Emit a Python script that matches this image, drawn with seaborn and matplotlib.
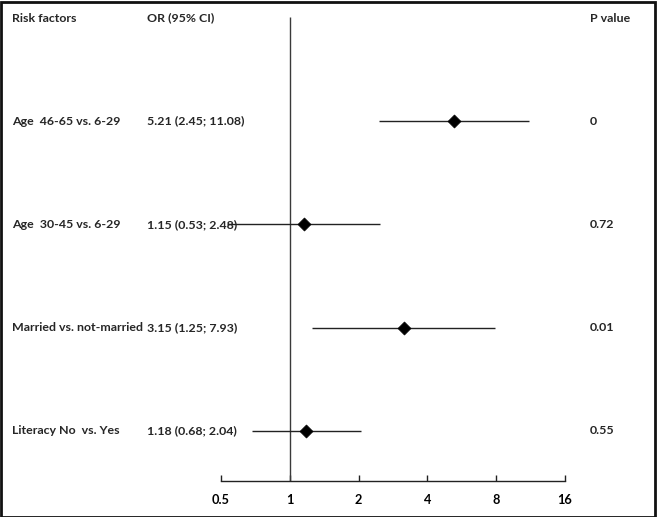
import matplotlib
matplotlib.use("Agg")
import matplotlib.pyplot as plt
import matplotlib.patches as mpatches
import numpy as np
import pandas as pd
import seaborn as sns

# Forest plot: odds ratios with 95% CI
factors = [
    "Age  46-65 vs. 6-29",
    "Age  30-45 vs. 6-29",
    "Married vs. not-married",
    "Literacy No  vs. Yes",
]
odds_ratio = [5.21, 1.15, 3.15, 1.18]
ci_low = [2.45, 0.53, 1.25, 0.68]
ci_high = [11.08, 2.48, 7.93, 2.04]
p_values = ["0", "0.72", "0.01", "0.55"]
x_ticks = [0.5, 1, 2, 4, 8, 16]
x_tick_labels = ["0.5", "1", "2", "4", "8", "16"]

sns.set_theme(style="white")
plt.rcParams["font.family"] = ["Lato", "DejaVu Sans"]

df = pd.DataFrame(
    {
        "factor": factors,
        "row": np.arange(len(factors)),
        "OR": odds_ratio,
        "lo": ci_low,
        "hi": ci_high,
        "p": p_values,
    }
)

W, H = 657, 517
fig = plt.figure(figsize=(W / 100, H / 100), dpi=100)
ax_bottom_px = 481
ax = fig.add_axes([0, (H - ax_bottom_px) / H, 1, ax_bottom_px / H])

# log2 scale, 0.5 at x=221 px, one doubling = 68.8 px
px_per_oct = 68.8
x_left = 2 ** (-1 - 221 / px_per_oct)
x_right = 2 ** (-1 + (W - 221) / px_per_oct)
ax.set_xscale("log", base=2)
ax.set_xlim(x_left, x_right)

row0_px, row_step = 121, 103.3
y_bottom = (ax_bottom_px - row0_px) / row_step
y_top = (0 - row0_px) / row_step
ax.set_ylim(y_bottom, y_top)

# reference line at OR = 1
ax.vlines(1, (17 - row0_px) / row_step, y_bottom, color="#3a3a3a", lw=1.0, zorder=1)

# CI lines and diamonds
ax.hlines(df["row"], df["lo"], df["hi"], color="#222222", lw=1.0, zorder=2)
sns.scatterplot(
    data=df, x="OR", y="row", marker="D", s=44, color="black",
    edgecolor="black", linewidth=0.5, ax=ax, zorder=3, legend=False,
)

# x axis
for side in ["top", "right", "left"]:
    ax.spines[side].set_visible(False)
ax.spines["bottom"].set_bounds(0.5, 16)
ax.spines["bottom"].set_color("#222222")
ax.spines["bottom"].set_linewidth(1.0)
ax.set_xticks(x_ticks)
ax.set_xticklabels(x_tick_labels, fontsize=9.2, fontweight="bold")
ax.tick_params(axis="x", direction="in", length=4, width=1, pad=9, colors="#222222",
               labelcolor="black", bottom=True)
ax.minorticks_off()
ax.set_yticks([])
ax.set_xlabel("")
ax.set_ylabel("")

# text columns
tr = ax.get_yaxis_transform()
col_label, col_or, col_p = 12 / W, 147 / W, 590 / W
fs = 8.9
header_y = (18 - row0_px) / row_step
ax.text(col_label, header_y, "Risk factors", transform=tr, ha="left", va="center",
        fontsize=fs, fontweight="bold")
ax.text(col_or, header_y, "OR (95% CI)", transform=tr, ha="left", va="center",
        fontsize=fs, fontweight="bold")
ax.text(col_p, header_y, "P value", transform=tr, ha="left", va="center",
        fontsize=fs, fontweight="bold")
for _, r in df.iterrows():
    ax.text(col_label, r["row"], r["factor"], transform=tr, ha="left", va="center",
            fontsize=fs, fontweight="bold")
    ax.text(col_or, r["row"], f"{r['OR']:.2f} ({r['lo']:.2f}; {r['hi']:.2f})",
            transform=tr, ha="left", va="center", fontsize=fs, fontweight="bold")
    ax.text(col_p, r["row"], r["p"], transform=tr, ha="left", va="center",
            fontsize=fs, fontweight="bold")

# frame round the image
fig.patches.append(
    mpatches.Rectangle((0.5 / W, 0.5 / H), 1 - 2.5 / W, 1 - 2.5 / H, transform=fig.transFigure,
                       fill=False, edgecolor="#111111", lw=2.0)
)

fig.savefig("out.png", dpi=100)
